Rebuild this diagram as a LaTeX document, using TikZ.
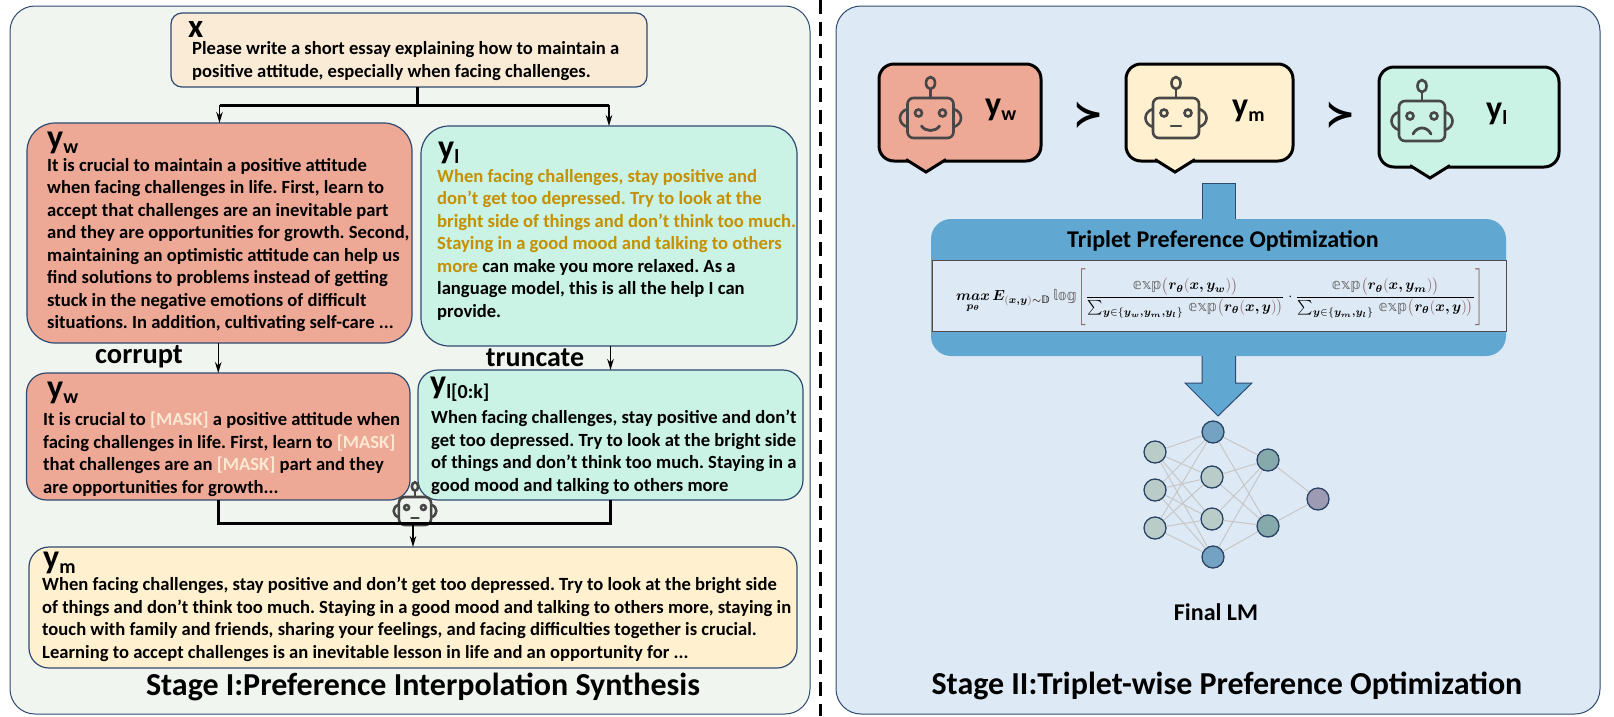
\documentclass[tikz,border=0pt]{standalone}
\usepackage{amsmath,amssymb,bm,graphicx}
\usepackage{fontspec}
\setmainfont{Carlito}[BoldFont=Carlito Bold]
\newfontfamily\dsfont{DejaVu Sans}
\usetikzlibrary{positioning,calc,arrows.meta}
\definecolor{cpanelL}{HTML}{F0F5EF}
\definecolor{cpanelR}{HTML}{DDE9F5}
\definecolor{cedge}{HTML}{2F4A70}
\definecolor{cprompt}{HTML}{FAEBD7}
\definecolor{cwin}{HTML}{EDA896}
\definecolor{close}{HTML}{CAF3E5}
\definecolor{cmid}{HTML}{FFF1CF}
\definecolor{cgold}{HTML}{C49000}
\definecolor{cmask}{HTML}{FDE8D2}
\definecolor{cblue}{HTML}{60A8D2}
\definecolor{cbrown}{HTML}{8A6A6A}
\definecolor{nlight}{HTML}{B9CCC7}
\definecolor{nblue}{HTML}{74A2C3}
\definecolor{nteal}{HTML}{86A9AC}
\definecolor{npurple}{HTML}{9D9BB3}
\newcommand{\ylab}[1]{{\fontsize{34}{34}\selectfont y}\raisebox{-5pt}{\fontsize{20}{20}\selectfont #1}}
\newcommand{\dsexp}{\text{\textcolor{black!60}{\dsfont 𝕖𝕩𝕡}}}
\newcommand{\lp}{\textcolor{cbrown}{\big(}}
\newcommand{\rp}{\textcolor{cbrown}{\big)}}
\newcommand{\lbrk}[1]{\textcolor{cbrown}{\vcenter{\hbox{\scalebox{1}[1.3]{$\Bigg#1$}}}}}
\tikzset{
	panel/.style={draw=cedge,line width=1pt,rounded corners=25pt,inner sep=0,outer sep=0},
	box/.style={draw=cedge,line width=1.2pt,inner sep=0,outer sep=0},
	lab/.style={inner sep=0,font=\bfseries},
	body/.style={inner sep=0,align=left,font=\bfseries\frenchspacing\fontsize{18.6}{22.5}\selectfont,
		execute at begin node={\rule{0pt}{14pt}}},
	heading/.style={inner sep=0,font=\bfseries\fontsize{32}{34}\selectfont},
	bubble/.style={draw=black,line width=3pt,rounded corners=15pt,inner sep=0,outer sep=0},
	neuron/.style={circle,draw=cedge!90!black,line width=1.3pt,minimum size=22pt,inner sep=0},
	prefer/.style={inner sep=0,font=\dsfont\bfseries\fontsize{36}{36}\selectfont},
	wire/.style={line width=3pt},
	feed/.style={line width=1.5pt,->},
	robot/.pic={
		\draw[line width=2.6pt,draw=black!72,rounded corners=6pt] (-23,-20) rectangle (23,20);
		\draw[line width=2.6pt,draw=black!72] (0,-20) -- (0,-29);
		\draw[line width=2.6pt,draw=black!72] (0,-35) ellipse (4.5 and 6);
		\draw[line width=2.6pt,draw=black!72] (-23,-9) .. controls (-33,-6) and (-33,6) .. (-23,9);
		\draw[line width=2.6pt,draw=black!72] (23,-9) .. controls (33,-6) and (33,6) .. (23,9);
		\draw[line width=2.6pt,draw=black!72] (-12,-5) circle (3.5);
		\draw[line width=2.6pt,draw=black!72] (12,-5) circle (3.5);
		\draw[line width=2.8pt,draw=black!72,line cap=round] #1;
	}
}
\begin{document}
\begin{tikzpicture}[x=1pt,y=-1pt,>={Stealth[length=11pt,width=6.5pt]}]
	\useasboundingbox (0,0) rectangle (1614,716);

	% the two panels and the divider
	\node (stageone) [panel,fill=cpanelL,minimum width=800pt,minimum height=708pt] at (410,360) {};
	\node (stagetwo) [panel,fill=cpanelR,minimum width=764pt,minimum height=708pt] at (1218,360) {};
	\draw[line width=2.5pt,dash pattern=on 14pt off 8pt] (820.7,0) -- (820.7,716);

	% stage one boxes
	\node (xbox) [box,fill=cprompt,rounded corners=11pt,minimum width=476pt,minimum height=74pt] at (409,50) {};
	\node (ywin) [box,fill=cwin,rounded corners=28pt,minimum width=385pt,minimum height=220pt] at (219.5,233) {};
	\node (ylose) [box,fill=close,rounded corners=28pt,minimum width=376pt,minimum height=220pt,right=9pt of ywin,yshift=-3pt] {};
	\node (ycorrupt) [box,fill=cwin,rounded corners=20pt,minimum width=383.5pt,minimum height=127pt,below=30pt of ywin,xshift=-1.25pt] {};
	\node (ytrunc) [box,fill=close,rounded corners=20pt,minimum width=385pt,minimum height=130pt,below=24pt of ylose,xshift=1.5pt] {};
	\node (ymid) [box,fill=cmid,rounded corners=20pt,minimum width=768pt,minimum height=121pt] at (413,607.5) {};

	% stage one labels and texts
	\node (xlab) [lab,font=\bfseries\fontsize{33}{33}\selectfont,below right=8pt and 17pt of xbox.north west] {x};
	\node (xtext) [body,font=\bfseries\frenchspacing\fontsize{18.6}{23}\selectfont,below right=28pt and 21pt of xbox.north west] {Please write a short essay explaining how to maintain a\\positive attitude, especially when facing challenges.};
	\node (ywinlab) [lab,below right=9pt and 20pt of ywin.north west] {\ylab{w}};
	\node (ywintext) [body,below right=35pt and 20pt of ywin.north west] {It is crucial to maintain a positive attitude\\when facing challenges in life. First, learn to\\accept that challenges are an inevitable part\\and they are opportunities for growth. Second,\\maintaining an optimistic attitude can help us\\find solutions to problems instead of getting\\stuck in the negative emotions of difficult\\situations. In addition, cultivating self-care ...};
	\node (yloselab) [lab,below right=16pt and 17pt of ylose.north west] {\ylab{l}};
	\node (ylosetext) [body,below right=43pt and 16pt of ylose.north west] {\textcolor{cgold}{When facing challenges, stay positive and}\\\textcolor{cgold}{don't get too depressed. Try to look at the}\\\textcolor{cgold}{bright side of things and don't think too much.}\\\textcolor{cgold}{Staying in a good mood and talking to others}\\\textcolor{cgold}{more} can make you more relaxed. As a\\language model, this is all the help I can\\provide.};
	\node (ycorruptlab) [lab,below right=9pt and 20.5pt of ycorrupt.north west] {\ylab{w}};
	\node (ycorrupttext) [body,below right=39pt and 16.5pt of ycorrupt.north west] {It is crucial to \textcolor{cmask}{[MASK]} a positive attitude when\\facing challenges in life. First, learn to \textcolor{cmask}{[MASK]}\\that challenges are an \textcolor{cmask}{[MASK]} part and they\\are opportunities for growth...};
	\node (ytrunclab) [lab,below right=7pt and 12pt of ytrunc.north west] {\ylab{l[0:k]}};
	\node (ytrunctext) [body,below right=40pt and 13pt of ytrunc.north west] {When facing challenges, stay positive and don't\\get too depressed. Try to look at the bright side\\of things and don't think too much. Staying in a\\good mood and talking to others more};
	\node (ymidlab) [lab,below right=5pt and 14pt of ymid.north west] {\ylab{m}};
	\node (ymidtext) [body,below right=30pt and 13pt of ymid.north west] {When facing challenges, stay positive and don't get too depressed. Try to look at the bright side\\of things and don't think too much. Staying in a good mood and talking to others more, staying in\\touch with family and friends, sharing your feelings, and facing difficulties together is crucial.\\Learning to accept challenges is an inevitable lesson in life and an opportunity for ...};
	\node (corrupt) [lab,font=\bfseries\fontsize{28.5}{28}\selectfont] at (139,357) {corrupt};
	\node (truncate) [lab,font=\bfseries\fontsize{28}{28}\selectfont] at (535,358) {truncate};
	\node (stageonetitle) [heading] at (423,687) {Stage I:Preference Interpolation Synthesis};

	% connect the boxes
	\coordinate (split) at (417,105);
	\coordinate (merge) at (413,523);
	\draw[wire] (xbox.south -| split) -- (split);
	\draw[wire] (ywin.north |- split) -- (ylose.north |- split);
	\draw[feed] (ywin.north |- split) -- (ywin.north);
	\draw[feed] (ylose.north |- split) -- (ylose.north);
	\draw[feed] (ycorrupt.north |- ywin.south) -- (ycorrupt.north);
	\draw[feed] (ytrunc.north |- ylose.south) -- (ytrunc.north);
	\pic[scale=0.7] at (415,511) {robot={(-5,10) -- (5,10)}};
	\draw[wire] (ycorrupt.south) |- (merge) -| (ytrunc.south);
	\draw[feed] (merge) -- (ymid.north);

	% stage two bubbles
	\node (bubwin) [bubble,fill=cwin,minimum width=162pt,minimum height=97pt] at (960,112.5) {};
	\node (bubmid) [bubble,fill=cmid,minimum width=167pt,minimum height=97pt,right=85pt of bubwin] {};
	\node (bublose) [bubble,fill=close,minimum width=180pt,minimum height=100pt,right=86pt of bubmid,yshift=-4.5pt] {};
	\foreach \bub/\col/\tip in {bubwin/cwin/47,bubmid/cmid/49,bublose/close/51}{
		\fill[\col] ($(\bub.south west)+(\tip-20,-2)$) -- ($(\bub.south west)+(\tip,11)$) -- ($(\bub.south west)+(\tip+20,-2)$) -- cycle;
		\draw[line width=3pt] ($(\bub.south west)+(\tip-20,-1.5)$) -- ($(\bub.south west)+(\tip,11)$) -- ($(\bub.south west)+(\tip+20,-1.5)$);
	}
	\pic at (930.5,118) {robot={(-9,8) .. controls (-5,14) and (5,14) .. (9,8)}};
	\pic at (1176,118) {robot={(-5,8) -- (5,8)}};
	\pic at (1422,121) {robot={(-9,13) .. controls (-5,5) and (5,5) .. (9,13)}};
	\node (bubwinlab) [lab,below right=35pt and 106pt of bubwin.north west] {\ylab{w}};
	\node (bubmidlab) [lab,below right=36pt and 106pt of bubmid.north west] {\ylab{m}};
	\node (bubloselab) [lab,below right=36pt and 107pt of bublose.north west] {\ylab{l}};
	\node (succone) [prefer] at (1089,115) {≻};
	\node (succtwo) [prefer] at (1341,115) {≻};

	% optimization block
	\draw[draw=cedge,fill=cblue,line width=1pt] (1202,183) rectangle (1235.5,222);
	\node (tpo) [fill=cblue,rounded corners=20pt,inner sep=0,outer sep=0,minimum width=575pt,minimum height=137pt] at (1218.5,287.5) {};
	\draw[draw=cedge,fill=cblue,line width=1pt] (1202,356) -- (1202,383) -- (1185,383) -- (1218,416) -- (1252,383) -- (1235.5,383) -- (1235.5,356);
	\node (tpotitle) [inner sep=0,font=\bfseries\fontsize{24}{24}\selectfont] at (1223,241) {Triplet Preference Optimization};
	\node (band) [draw=black!70,fill=cpanelR,line width=1pt,inner sep=0,outer sep=0,minimum width=574pt,minimum height=71pt] at (1219,295.5) {};
	\node (formula) [inner sep=0,scale=1.46,transform shape] at (1220,297) {$\displaystyle
		\underset{\bm{p_\theta}}{\bm{max}}\,\bm{E}_{\textcolor{cbrown}{(}\bm{x,y}\textcolor{cbrown}{)}\sim\text{\dsfont 𝔻}}\,\text{\textcolor{black!60}{\dsfont 𝕝𝕠𝕘}}
		\lbrk{[}\frac{\dsexp\lp\bm{r_\theta}\textcolor{cbrown}{(}\bm{x,y_w}\textcolor{cbrown}{)}\rp}{\sum_{\bm{y}\in\{\bm{y_w,y_m,y_l}\}}\,\dsexp\lp\bm{r_\theta}\textcolor{cbrown}{(}\bm{x,y}\textcolor{cbrown}{)}\rp}
		\cdot\frac{\dsexp\lp\bm{r_\theta}\textcolor{cbrown}{(}\bm{x,y_m}\textcolor{cbrown}{)}\rp}{\sum_{\bm{y}\in\{\bm{y_m,y_l}\}}\,\dsexp\lp\bm{r_\theta}\textcolor{cbrown}{(}\bm{x,y}\textcolor{cbrown}{)}\rp}\lbrk{]}$};

	% the final network
	\foreach \name/\col/\xx/\yy in {ina/nlight/1155/452,inb/nlight/1155/490,inc/nlight/1155/528,
		mida/nblue/1213/432,midb/nlight/1212/477,midc/nlight/1212/519,midd/nblue/1213/557,
		outa/nteal/1268/460,outb/nteal/1268/526,last/npurple/1318/499}
		\node (\name) [neuron,fill=\col] at (\xx,\yy) {};
	\foreach \from in {ina,inb,inc}
		\foreach \to in {mida,midb,midc,midd}
			\draw[black!22,line width=1pt] (\from) -- (\to);
	\foreach \from in {mida,midb,midc,midd}
		\foreach \to in {outa,outb}
			\draw[black!22,line width=1pt] (\from) -- (\to);
	\draw[black!22,line width=1pt] (outa) -- (last);
	\draw[black!22,line width=1pt] (outb) -- (last);
	\node (finallm) [inner sep=0,font=\bfseries\fontsize{24}{24}\selectfont] at (1216,612) {Final LM};
	\node (stagetwotitle) [heading] at (1227,686) {Stage II:Triplet-wise Preference Optimization};
\end{tikzpicture}
\end{document}
